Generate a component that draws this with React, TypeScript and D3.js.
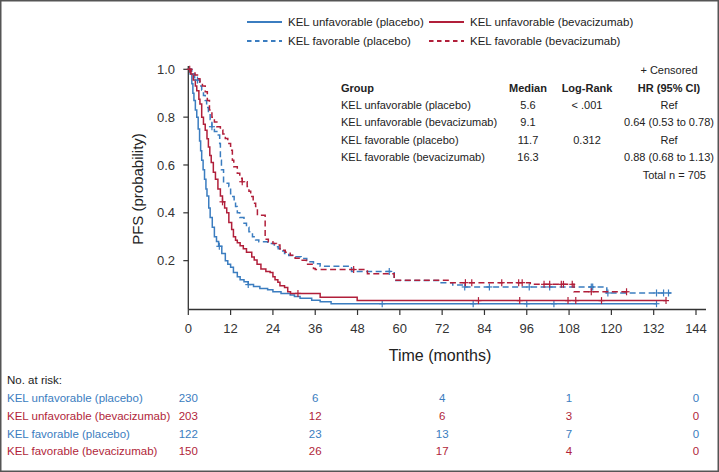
import React from "react";
import * as d3 from "d3";

const BLUE = "#3b7dc0";
const RED = "#b11f3a";

// KM step points [months, survival]
const unfavPlacebo: [number, number][] = [
  [0, 1], [0.5, 0.98], [1, 0.94], [1.3, 0.9], [1.6, 0.87], [2, 0.83], [2.4, 0.8], [2.8, 0.75], [3.2, 0.7],
  [3.5, 0.66], [3.8, 0.62], [4.2, 0.58], [4.6, 0.54], [5, 0.5], [5.3, 0.47], [5.8, 0.42], [6.2, 0.38],
  [6.8, 0.34], [7.4, 0.3], [8, 0.28], [8.6, 0.26], [9.5, 0.23], [10.5, 0.2], [11.2, 0.185], [12, 0.172],
  [12.8, 0.15], [13.9, 0.133], [14.7, 0.12], [15.8, 0.112], [17, 0.1], [18.5, 0.092], [20.3, 0.084],
  [22.5, 0.078], [24, 0.07], [26.3, 0.063], [28.9, 0.056], [30.1, 0.05], [31.7, 0.043], [35, 0.035],
  [37.4, 0.028], [40.5, 0.02], [132.8, 0.02],
];
const unfavPlaceboCens = [8.8, 17, 55, 80.8, 96, 103.7, 132.8];

const unfavBev: [number, number][] = [
  [0, 1], [0.7, 0.98], [1.4, 0.955], [2, 0.93], [2.4, 0.91], [3, 0.875], [3.3, 0.855], [3.8, 0.8],
  [4.3, 0.77], [4.8, 0.745], [5.3, 0.71], [5.7, 0.675], [6.1, 0.64], [6.5, 0.61], [7.1, 0.57], [7.7, 0.54],
  [8.4, 0.5], [9.1, 0.47], [9.7, 0.446], [10.3, 0.42], [10.9, 0.4], [11.5, 0.36], [12.3, 0.33], [12.8, 0.3],
  [13.4, 0.285], [13.9, 0.275], [14.7, 0.262], [15.6, 0.25], [16.5, 0.235], [18, 0.215], [18.7, 0.203],
  [19.5, 0.185], [20.6, 0.165], [22, 0.155], [23.2, 0.15], [24, 0.133], [24.6, 0.12], [25.4, 0.11],
  [26, 0.095], [27.3, 0.088], [28.2, 0.07], [29, 0.063], [37.4, 0.047], [47.9, 0.033], [135.5, 0.033],
];
const unfavBevCens = [9.7, 31.1, 82.3, 94, 107.7, 109.9, 117.2, 135.5];

const favPlacebo: [number, number][] = [
  [0, 1], [1, 0.98], [1.8, 0.965], [2.4, 0.955], [3.2, 0.93], [3.8, 0.913], [4.3, 0.89], [4.8, 0.87],
  [5.2, 0.84], [5.7, 0.815], [6.2, 0.79], [6.7, 0.76], [7.4, 0.74], [8.1, 0.725], [8.9, 0.69], [9.1, 0.62],
  [9.4, 0.58], [10, 0.524], [11.5, 0.51], [12, 0.48], [12.4, 0.468], [13, 0.445], [13.4, 0.426], [13.9, 0.4],
  [14.6, 0.38], [15.8, 0.356], [16.5, 0.34], [17.2, 0.321], [18.2, 0.3], [19.1, 0.286], [20, 0.279],
  [22.5, 0.272], [24.4, 0.258], [25.5, 0.25], [26.5, 0.24], [27.3, 0.23], [28.5, 0.222], [30.1, 0.216],
  [32, 0.209], [33.6, 0.195], [35.5, 0.187], [37.4, 0.177], [46.3, 0.155], [58.4, 0.117], [71.7, 0.108],
  [75, 0.098], [78.3, 0.09], [118.7, 0.065], [137, 0.065],
];
const favPlaceboCens = [2.6, 6.7, 57, 78.4, 85.4, 96.7, 102.5, 114.3, 114.7, 119, 132.8, 134.8, 136.2];

const favBev: [number, number][] = [
  [0, 1], [0.8, 0.985], [1.9, 0.976], [2.6, 0.96], [3.3, 0.948], [4, 0.93], [4.8, 0.906], [5.4, 0.87],
  [6, 0.83], [6.7, 0.8], [7.4, 0.78], [8.1, 0.76], [9.1, 0.746], [9.8, 0.73], [10.5, 0.711], [11.2, 0.69],
  [12, 0.662], [12.5, 0.62], [12.9, 0.593], [13.9, 0.565], [14.6, 0.545], [15.3, 0.53], [16.7, 0.51],
  [17.2, 0.49], [17.7, 0.468], [18.4, 0.44], [19.1, 0.426], [19.6, 0.39], [21.8, 0.29], [22.7, 0.279],
  [24, 0.272], [25, 0.265], [26, 0.244], [27.5, 0.235], [28.9, 0.223], [30.3, 0.21], [31.7, 0.202],
  [33.5, 0.185], [35.5, 0.167], [36, 0.163], [50.8, 0.145], [58.4, 0.118], [74, 0.108], [97, 0.101],
  [109.4, 0.07], [124.5, 0.07],
];
const favBevCens = [0.4, 15.3, 46.9, 78.6, 80.4, 88.9, 93.7, 94.7, 100.9, 102.5, 105.8, 106.4, 108.9, 114.3, 124.3];

const xTicks = [0, 12, 24, 36, 48, 60, 72, 84, 96, 108, 120, 132, 144];
const yTicks = [0.2, 0.4, 0.6, 0.8, 1.0];

const tableHeader = ["Group", "Median", "Log-Rank", "HR (95% CI)"];
const tableGroups = ["KEL unfavorable (placebo)", "KEL unfavorable (bevacizumab)", "KEL favorable (placebo)", "KEL favorable (bevacizumab)"];
const tableMedians = ["5.6", "9.1", "11.7", "16.3"];
const tableLogRank = ["< .001", "", "0.312", ""];
const tableHR = ["Ref", "0.64 (0.53 to 0.78)", "Ref", "0.88 (0.68 to 1.13)"];

const riskTimes = [0, 36, 72, 108, 144];
const riskLabels = tableGroups;
const riskCounts = [
  [230, 6, 4, 1, 0],
  [203, 12, 6, 3, 0],
  [122, 23, 13, 7, 0],
  [150, 26, 17, 4, 0],
];

const FONT = "'Liberation Sans', Arial, Helvetica, sans-serif";

export default function App() {
  const x = d3.scaleLinear().domain([0, 144]).range([188.3, 696]);
  const y = d3.scaleLinear().domain([0, 1]).range([308.5, 69.3]);
  const line = d3
    .line<[number, number]>()
    .x((d) => x(d[0]))
    .y((d) => y(d[1]))
    .curve(d3.curveStepAfter);

  const survAt = (steps: [number, number][], t: number) => {
    let s = steps[0][1];
    for (const p of steps) if (p[0] <= t) s = p[1];
    return s;
  };

  const series = [
    { data: unfavPlacebo, cens: unfavPlaceboCens, color: BLUE, dash: undefined as string | undefined },
    { data: unfavBev, cens: unfavBevCens, color: RED, dash: undefined },
    { data: favPlacebo, cens: favPlaceboCens, color: BLUE, dash: "6,3.5" },
    { data: favBev, cens: favBevCens, color: RED, dash: "6,3.5" },
  ];
  const riskColors = [BLUE, RED, BLUE, RED];

  const legendItems = [
    { label: "KEL unfavorable (placebo)", color: BLUE, dash: undefined as string | undefined, lx: 247, ly: 22 },
    { label: "KEL unfavorable (bevacizumab)", color: RED, dash: undefined, lx: 429, ly: 22 },
    { label: "KEL favorable (placebo)", color: BLUE, dash: "4.5,3.5", lx: 247, ly: 41 },
    { label: "KEL favorable (bevacizumab)", color: RED, dash: "4.5,3.5", lx: 429, ly: 41 },
  ];

  const tableY = [105, 122.5, 140, 157.5];

  return (
    <svg width={719} height={472} style={{ position: "absolute", left: 0, top: 0, background: "#fff" }} fontFamily={FONT}>
      <rect x={0.75} y={0.75} width={717.5} height={470.5} fill="#fff" stroke="#555" strokeWidth={1.5} />

      {/* legend */}
      {legendItems.map((l, i) => (
        <g key={i}>
          <line x1={l.lx} x2={l.lx + 35} y1={l.ly} y2={l.ly} stroke={l.color} strokeWidth={1.8} strokeDasharray={l.dash} />
          <text x={l.lx + 41} y={l.ly} dy="0.35em" fontSize={11.5} fill="#222">{l.label}</text>
        </g>
      ))}

      {/* axes */}
      <line x1={x(0)} x2={706} y1={309.5} y2={309.5} stroke="#333" strokeWidth={1.3} />
      <line x1={x(0)} x2={x(0)} y1={66} y2={309.5} stroke="#333" strokeWidth={1.3} />
      {xTicks.map((t) => (
        <g key={t}>
          <line x1={x(t)} x2={x(t)} y1={309.5} y2={315} stroke="#333" strokeWidth={1.2} />
          <text x={x(t)} y={328} dy="0.35em" textAnchor="middle" fontSize={13} fill="#333">{t}</text>
        </g>
      ))}
      {yTicks.map((t) => (
        <g key={t}>
          <line x1={x(0) - 5} x2={x(0)} y1={y(t)} y2={y(t)} stroke="#333" strokeWidth={1.2} />
          <text x={175} y={y(t)} dy="0.35em" textAnchor="end" fontSize={13} fill="#333">{t.toFixed(1)}</text>
        </g>
      ))}
      <text transform={`translate(138,189) rotate(-90)`} textAnchor="middle" dy="0.35em" fontSize={15} fill="#222">PFS (probability)</text>
      <text x={440} y={355} dy="0.35em" textAnchor="middle" fontSize={16} fill="#222">Time (months)</text>

      {/* curves */}
      {series.map((s, i) => (
        <g key={i}>
          <path d={line(s.data) || ""} fill="none" stroke={s.color} strokeWidth={1.5} strokeDasharray={s.dash} />
          {s.cens.map((t, j) => {
            const cx = x(t);
            const cy = y(survAt(s.data, t));
            return (
              <g key={j} stroke={s.color} strokeWidth={1.2}>
                <line x1={cx} x2={cx} y1={cy - 3.5} y2={cy + 3.5} />
                <line x1={cx - 3} x2={cx + 3} y1={cy} y2={cy} />
              </g>
            );
          })}
        </g>
      ))}

      {/* table */}
      <g fontSize={11} fill="#222">
        <text x={669} y={70} dy="0.35em" textAnchor="middle">+ Censored</text>
        <text x={341} y={88} dy="0.35em" fontWeight="bold">{tableHeader[0]}</text>
        <text x={528} y={88} dy="0.35em" textAnchor="middle" fontWeight="bold">{tableHeader[1]}</text>
        <text x={587} y={88} dy="0.35em" textAnchor="middle" fontWeight="bold">{tableHeader[2]}</text>
        <text x={669} y={88} dy="0.35em" textAnchor="middle" fontWeight="bold">{tableHeader[3]}</text>
        {tableGroups.map((g, i) => (
          <g key={i}>
            <text x={341} y={tableY[i]} dy="0.35em">{g}</text>
            <text x={528} y={tableY[i]} dy="0.35em" textAnchor="middle">{tableMedians[i]}</text>
            <text x={587} y={tableY[i]} dy="0.35em" textAnchor="middle">{tableLogRank[i]}</text>
            <text x={669} y={tableY[i]} dy="0.35em" textAnchor="middle">{tableHR[i]}</text>
          </g>
        ))}
        <text x={706} y={175} dy="0.35em" textAnchor="end">Total n = 705</text>
      </g>

      {/* risk table */}
      <g fontSize={11.5}>
        <text x={7} y={380} dy="0.35em" fill="#222">No. at risk:</text>
        {riskLabels.map((lab, i) => (
          <g key={i} fill={riskColors[i]}>
            <text x={7} y={398 + i * 17.8} dy="0.35em">{lab}</text>
            {riskCounts[i].map((c, j) => (
              <text key={j} x={x(riskTimes[j])} y={398 + i * 17.8} dy="0.35em" textAnchor="middle">{c}</text>
            ))}
          </g>
        ))}
      </g>
    </svg>
  );
}
